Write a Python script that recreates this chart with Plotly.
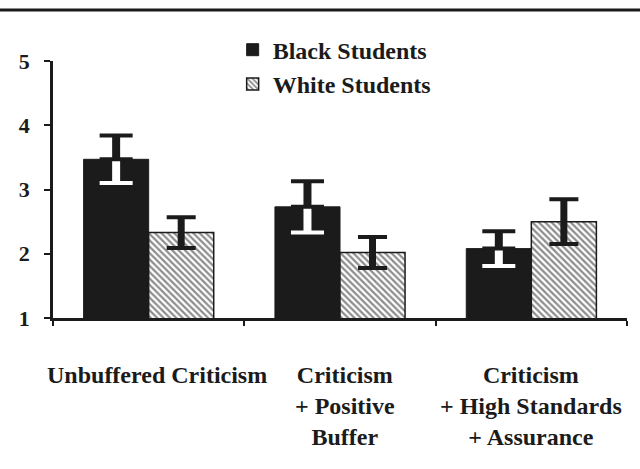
'''
    Bar chart of mean ratings by feedback condition for Black and White students.
'''
import plotly.graph_objects as go

categories = ['Unbuffered Criticism', 'Criticism + Positive Buffer',
              'Criticism + High Standards + Assurance']
label_lines = ['Unbuffered Criticism', 'Criticism<br>+ Positive<br>Buffer',
               'Criticism<br>+ High Standards<br>+ Assurance']
black_means = [3.47, 2.73, 2.08]
black_err = [0.37, 0.40, 0.27]
white_means = [2.33, 2.02, 2.50]
white_err = [0.24, 0.24, 0.35]
y_ticks = [1, 2, 3, 4, 5]

INK = '#1b1b1b'
FONT = 'Liberation Serif'
CLEAR = 'rgba(0,0,0,0)'


def err_overlay(y, group, err, color, thickness, width, up_only=False):
    '''
        Transparent bar in the given offset group that only carries
        an error bar, so stems and caps can have their own thickness.
    '''
    if up_only:
        error = dict(type='data', symmetric=False, array=err,
                     arrayminus=[0] * len(err))
    else:
        error = dict(type='data', array=err)
    error.update(color=color, thickness=thickness, width=width)
    return go.Bar(x=categories, y=y, offsetgroup=group, showlegend=False,
                  hoverinfo='skip',
                  marker=dict(color=CLEAR, line=dict(width=0)),
                  error_y=error)


fig = go.Figure()

#black bars, lower half of the error bar in white
fig.add_trace(go.Bar(
    name='<b>Black Students</b>',
    x=categories, y=black_means, offsetgroup='b',
    marker=dict(color=INK, line=dict(color=INK, width=1)),
    error_y=dict(type='data', array=black_err, color='white',
                 thickness=4, width=16.5),
))
fig.add_trace(err_overlay(black_means, 'b', black_err, 'white', 8, 0))
#upper half of the error bar in black
fig.add_trace(err_overlay(black_means, 'b', black_err, INK, 4, 16.5, True))
fig.add_trace(err_overlay(black_means, 'b', black_err, INK, 8, 0, True))

#hatched bars
fig.add_trace(go.Bar(
    name='<b>White Students</b>',
    x=categories, y=white_means, offsetgroup='w',
    marker=dict(color='white', line=dict(color=INK, width=1.5),
                pattern=dict(shape='\\', fgcolor=INK, bgcolor='white',
                             size=4.5, solidity=0.5)),
    error_y=dict(type='data', array=white_err, color=INK,
                 thickness=4, width=14.5),
))
fig.add_trace(err_overlay(white_means, 'w', white_err, INK, 7, 0))

#category labels under the axis
label_x = [0.181, 0.509, 0.833]
for t, lx in zip(label_lines, label_x):
    fig.add_annotation(text='<b>' + t + '</b>', x=lx, y=-0.165,
                       xref='paper', yref='paper', xanchor='center',
                       yanchor='top', showarrow=False, align='center',
                       font=dict(family=FONT, size=24, color=INK))

fig.update_layout(
    width=640, height=469,
    margin=dict(l=53, r=13, t=61, b=151, autoexpand=False),
    paper_bgcolor='white', plot_bgcolor='white',
    barmode='group', bargap=0.32, bargroupgap=0,
    font=dict(family=FONT, size=20, color=INK),
    showlegend=True,
    legend=dict(x=0.313, y=1.13, xanchor='left', yanchor='top',
                font=dict(family=FONT, size=24, color=INK),
                bgcolor=CLEAR, tracegroupgap=0),
    xaxis=dict(showline=True, linecolor=INK, linewidth=2.5,
               ticks='outside', tickson='boundaries', ticklen=5,
               tickwidth=2, tickcolor=INK, showticklabels=False,
               showgrid=False, zeroline=False),
    xaxis2=dict(overlaying='x', range=[-0.5, 2.5],
                tickvals=[-0.5, 0.5, 1.5, 2.5], ticks='inside', ticklen=5,
                tickwidth=2, tickcolor=INK, showticklabels=False,
                showline=False, showgrid=False, zeroline=False),
    yaxis=dict(range=[1, 5], tickvals=y_ticks,
               ticktext=['<b>%d</b>' % v for v in y_ticks],
               showline=True, linecolor=INK, linewidth=2.5,
               ticks='outside', ticklen=6, tickwidth=2, tickcolor=INK,
               ticklabelstandoff=10, showgrid=False, zeroline=False,
               tickfont=dict(family=FONT, size=22, color=INK)),
    yaxis2=dict(overlaying='y', range=[1, 5], tickvals=y_ticks,
                ticks='inside', ticklen=6, tickwidth=2, tickcolor=INK,
                showticklabels=False, showline=False, showgrid=False,
                zeroline=False),
)

#rule across the top of the figure
fig.add_shape(type='line', xref='paper', yref='paper',
              x0=-0.1, x1=1.1, y0=1.198, y1=1.198,
              line=dict(color=INK, width=3))

fig.write_html('out.html', config={'displayModeBar': False},
               post_script="document.body.style.margin='0px';")
